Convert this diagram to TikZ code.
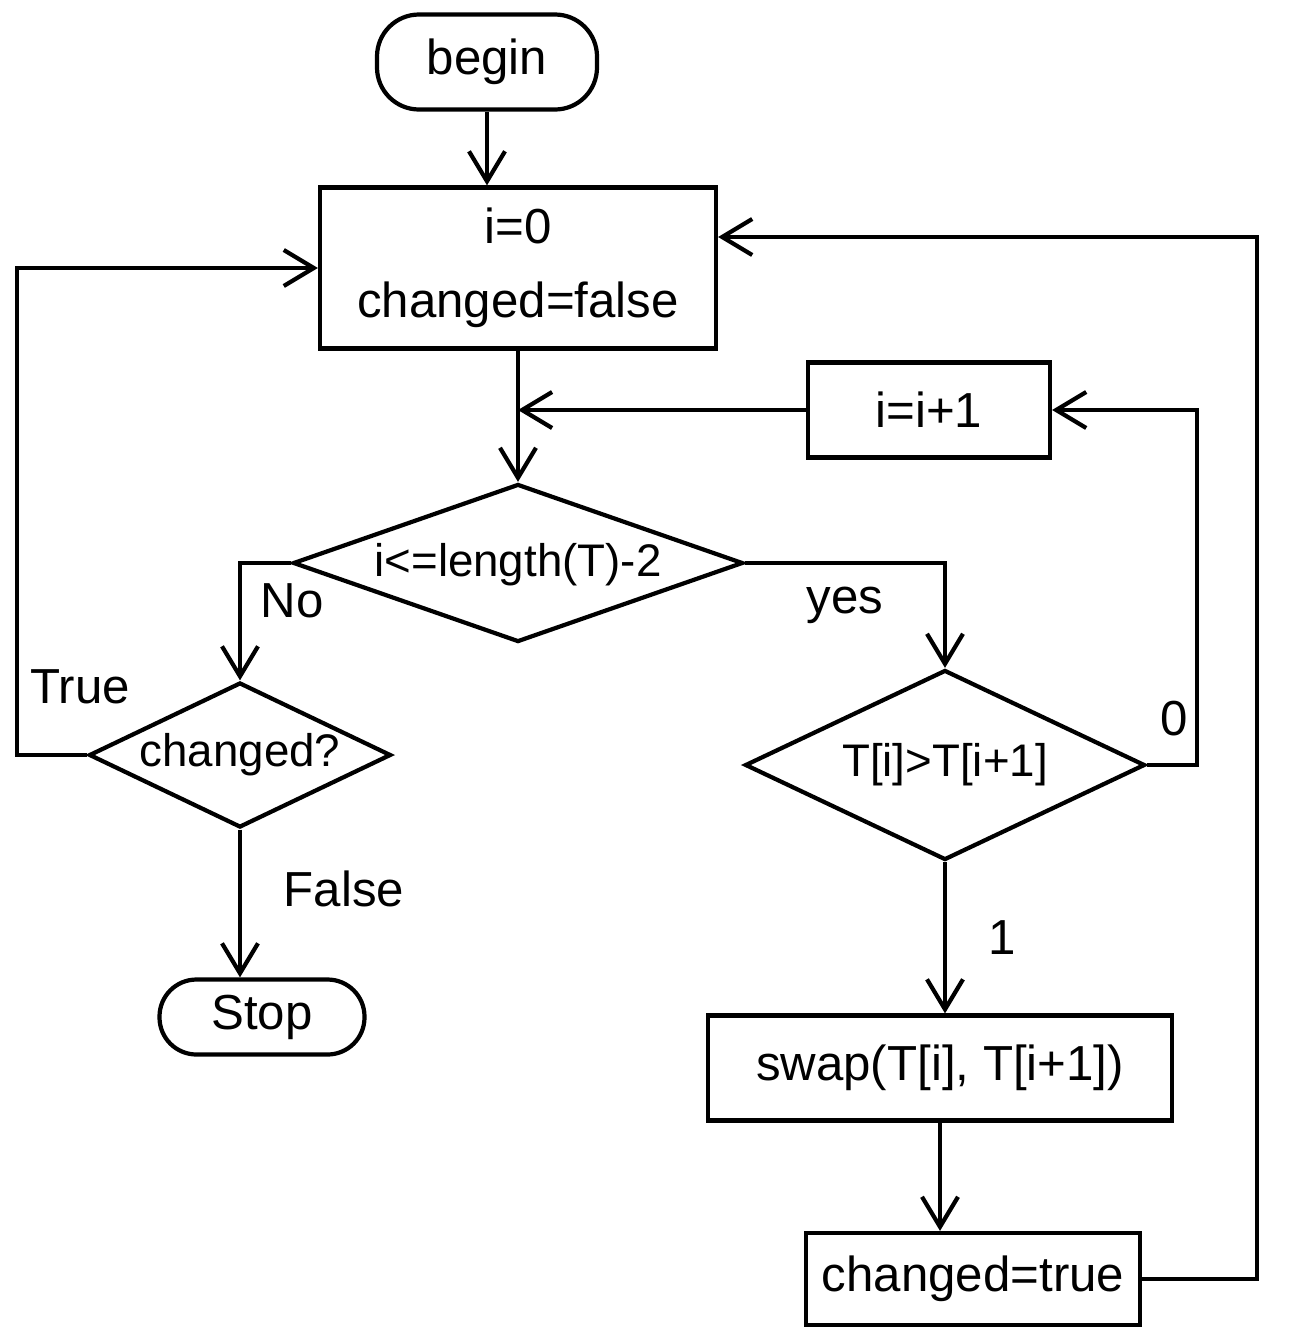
\documentclass[tikz,border=0pt]{standalone}
\usepackage{fontspec}
\setmainfont{Liberation Sans}
\usetikzlibrary{arrows.meta, shapes.geometric}

\tikzset{
    terminal/.style={draw, rounded corners=0.42cm, inner sep=2pt},
    process/.style={draw, align=center, inner sep=2pt},
    decision/.style={draw, shape=diamond, inner sep=0pt},
    decisiontext/.style={font=\fontsize{13}{16}\selectfont}
}

\begin{document}
\begin{tikzpicture}[line width=1.2pt, font=\fontsize{14}{21}\selectfont]
\useasboundingbox (0,0) rectangle (12.89,-13.33);

\begin{scope}[every node/.style={line width=1.2pt}]
    \node (begin) at (4.87, -0.62) [terminal, minimum width=2.2cm, minimum height=0.95cm] {begin};
    \node (init) at (5.18, -2.68) [process, minimum width=3.96cm, minimum height=1.61cm] {i=0\\changed=false};

    \node (incr) at (9.29, -4.10) [process, minimum width=2.42cm, minimum height=0.95cm] {i=i+1};
    \node (d1) at (5.18, -5.63) [decision, minimum width=4.5cm, minimum height=1.58cm,
        label={[decisiontext, yshift=-0.02cm]center:i<=length(T)-2}] {};

    \node (d2) at (2.40, -7.55) [decision, minimum width=3.02cm, minimum height=1.45cm,
        label={[decisiontext]center:changed?}] {};
    \node (stop) at (2.62, -10.17) [terminal, minimum width=2.05cm, minimum height=0.75cm, rounded corners=0.37cm] {Stop};

    \node (d3) at (9.45, -7.65) [decision, minimum width=4.0cm, minimum height=1.9cm,
        label={[decisiontext]center:{T[i]>T[i+1]}}] {};
    \node (swap) at (9.40, -10.68) [process, minimum width=4.64cm, minimum height=1.05cm] {swap(T[i], T[i+1])};
    \node (ctrue) at (9.73, -12.79) [process, minimum width=3.34cm, minimum height=0.92cm] {changed=true};
\end{scope}

\begin{scope}[>={Straight Barb[length=3mm,width=3.6mm]}]
    \draw [->] (begin) -- (begin.south |- init.north);
    \draw [->] (init) -- (d1);
    \draw [->] (incr) -- (incr.west -| init.south);
    \draw [->] (d1.west) -| node [pos=0.66, right=2pt] {No} (d2.north);
    \draw [->] (d2.west) -- ++(-0.7,0) |- node [pos=0.07, right] {True} (init.west);
    \draw [->] (d2) -- node [pos=0.4, right=0.3cm] {False} (d2.south |- stop.north);
    \draw [->] (d1.east) -| node [pos=0.25, below=0.1cm] {yes} (d3.north);
    \draw [->] (d3.east) -- node [pos=0.55, above=0.15cm] {0} ++(0.5,0) |- (incr.east);
    \draw [->] (d3) -- node [right=0.3cm] {1} (d3.south |- swap.north);
    \draw [->] (swap) -- (swap.south |- ctrue.north);
    \draw [->] (ctrue.east) -- ++(1.15,0) |- ([yshift=0.31cm]init.east);
\end{scope}
\end{tikzpicture}
\end{document}
